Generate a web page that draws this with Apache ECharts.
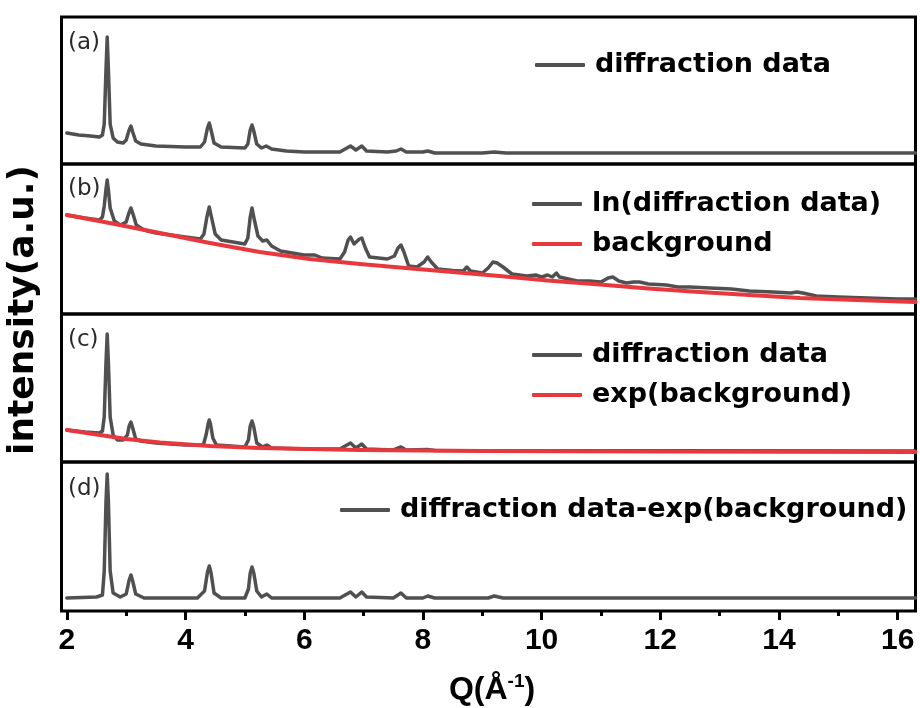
<!DOCTYPE html>
<html>
<head>
<meta charset="utf-8">
<title>diffraction data</title>
<script src="https://cdn.jsdelivr.net/npm/echarts@6/dist/echarts.min.js"></script>
<style>
html,body{margin:0;padding:0;background:#fff;}
#main{width:920px;height:708px;}
</style>
</head>
<body>
<div id="main"></div>
<script>
// Q (1/A) vs intensity (arbitrary units per panel)
var dataA = [[2.0,31],[2.2,29],[2.4,28],[2.55,27],[2.6,29],[2.63,40],[2.66,95],[2.68,127],[2.70,95],[2.73,40],[2.78,26],[2.85,22],[2.95,21],[3.0,24],[3.05,34],[3.08,38],[3.11,32],[3.16,23],[3.25,20],[3.5,18],[4.0,17],[4.25,17],[4.32,22],[4.37,36],[4.4,41],[4.43,34],[4.48,21],[4.6,17],[5.0,16],[5.05,20],[5.09,34],[5.12,39],[5.15,33],[5.2,20],[5.28,16],[5.36,18],[5.45,15],[5.7,13],[6.0,12],[6.6,12],[6.72,16],[6.78,18],[6.87,14],[6.97,18],[7.05,13],[7.4,12],[7.55,13],[7.63,15],[7.72,12],[8.0,12],[8.08,13],[8.2,11],[9.0,11],[9.2,12],[9.4,11],[16.3,11]];

var lnData = [[2.0,99],[2.3,96],[2.55,94],[2.6,97],[2.63,108],[2.66,125],[2.68,134],[2.70,124],[2.73,106],[2.8,93],[2.9,89],[3.0,92],[3.04,100],[3.08,106],[3.12,99],[3.17,89],[3.3,84],[3.5,81],[4.0,77],[4.25,75],[4.31,80],[4.36,97],[4.4,107],[4.44,96],[4.5,80],[4.6,74],[5.0,70],[5.05,76],[5.09,97],[5.12,106],[5.16,94],[5.22,78],[5.3,73],[5.37,74],[5.45,68],[5.6,63],[6.0,59],[6.18,59],[6.3,56],[6.6,55],[6.68,62],[6.74,74],[6.78,77],[6.84,70],[6.87,69],[6.93,75],[6.97,76],[7.03,66],[7.1,57],[7.4,55],[7.52,58],[7.58,66],[7.63,69],[7.68,62],[7.76,48],[7.9,47],[8.02,52],[8.08,57],[8.14,52],[8.25,45],[8.5,43.5],[8.68,43],[8.74,47],[8.8,43],[9.0,41],[9.1,46],[9.18,52],[9.25,51],[9.35,47],[9.5,40],[9.75,38],[9.9,39],[10.0,37],[10.1,39],[10.18,37],[10.25,41],[10.3,37],[10.45,35],[10.6,33],[10.8,33],[11.0,32],[11.12,36],[11.2,37],[11.3,33],[11.43,31],[11.55,32],[11.65,32],[11.8,30],[12.1,29],[12.3,27],[12.5,27],[12.83,26],[13.2,25],[13.5,23],[13.9,22],[14.2,21],[14.3,22],[14.4,21],[14.63,18],[15.0,17],[15.5,16],[16.0,15],[16.3,15]];

var bgLn = [[2.0,99],[2.72,91],[3.57,81],[4.41,71],[5.25,62],[6.09,55],[6.94,50],[7.61,46.5],[8.5,42],[9.29,38],[10.1,33.5],[10.98,29.5],[11.8,25.5],[12.66,22],[13.5,19],[14.35,16],[15.3,14],[16.3,12]];

var dataC = [[2.0,32],[2.3,30],[2.55,29],[2.6,31],[2.63,45],[2.66,100],[2.68,128],[2.70,100],[2.73,45],[2.78,27],[2.85,22],[2.95,22],[3.02,27],[3.05,36],[3.08,40],[3.11,34],[3.16,23],[3.25,21],[3.5,19],[4.0,17],[4.3,17],[4.35,28],[4.38,38],[4.4,42],[4.42,38],[4.46,24],[4.52,17],[5.0,15],[5.06,22],[5.09,36],[5.12,41],[5.15,35],[5.2,19],[5.3,15],[5.37,17],[5.45,14],[6.0,13],[6.6,13],[6.72,17],[6.78,19],[6.87,14],[6.97,18],[7.05,13],[7.5,12],[7.63,15],[7.72,12],[8.08,12.5],[8.2,11.5],[16.3,11]];

var bgExp = [[2.0,32],[2.56,27],[3.0,23],[3.57,19.5],[4.41,16],[5.25,14],[6.94,12],[9.0,11],[12.0,10.5],[16.3,10]];

var dataD = [[2.0,13],[2.5,14],[2.6,16],[2.63,40],[2.66,110],[2.68,137],[2.70,110],[2.73,40],[2.78,18],[2.9,14],[3.0,17],[3.05,31],[3.08,36],[3.11,30],[3.16,17],[3.3,13],[4.2,13],[4.32,20],[4.37,39],[4.4,45],[4.43,38],[4.48,18],[4.6,13],[5.0,13],[5.06,22],[5.09,38],[5.12,44],[5.15,38],[5.2,20],[5.28,14],[5.37,17],[5.45,13],[6.6,13],[6.72,17],[6.78,19],[6.87,14],[6.97,19],[7.05,14],[7.5,13],[7.63,18],[7.72,13],[8.0,13],[8.08,15],[8.2,13],[9.1,13],[9.2,15],[9.35,13],[16.3,13]];

var xTicks = [2, 4, 6, 8, 10, 12, 14, 16];
var xMinor = [3, 5, 7, 9, 11, 13, 15];
var panelTags = ['(a)', '(b)', '(c)', '(d)'];

var grey = '#505050';
var red = '#e8383d';

// grid layout: top and height of each panel
var panels = [
    {top: 17, h: 147},
    {top: 164, h: 150},
    {top: 314, h: 148},
    {top: 462, h: 149}
];
var tagY = [46, 192, 343, 492];

var chart = echarts.init(document.getElementById('main'), null, {renderer: 'canvas'});

var grids = [], xAxes = [], yAxes = [];
panels.forEach(function(p, i){
    grids.push({left: 61.5, right: 4.5, top: p.top, height: p.h, show: true,
        borderColor: '#000', borderWidth: 3, backgroundColor: 'transparent'});
    var last = (i == panels.length - 1);
    xAxes.push({
        type: 'value', gridIndex: i, min: 1.91, max: 16.3,
        axisLine: {show: false},
        splitLine: {show: false},
        axisTick: {show: last, customValues: xTicks, length: 9, lineStyle: {color: '#000', width: 3}},
        axisLabel: {show: last, customValues: xTicks, margin: 15, color: '#000',
            fontFamily: 'Liberation Sans', fontWeight: 'bold', fontSize: 30}
    });
    yAxes.push({type: 'value', gridIndex: i, min: 0, max: p.h, show: false});
});
// minor ticks at odd Q
xAxes.push({
    type: 'value', gridIndex: 3, position: 'bottom', offset: 0, min: 1.91, max: 16.3,
    axisLine: {show: false}, splitLine: {show: false}, axisLabel: {show: false},
    axisTick: {show: true, customValues: xMinor, length: 5, lineStyle: {color: '#000', width: 3}}
});

function line(name, data, idx, color, w){
    return {
        type: 'line', name: name, data: data, xAxisIndex: idx, yAxisIndex: idx,
        showSymbol: false, symbol: 'none',
        lineStyle: {color: color, width: w, join: 'round', cap: 'round'},
        itemStyle: {color: color}
    };
}

var legendText = {fontFamily: 'DejaVu Sans', fontWeight: 'bold', fontSize: 27,
    color: '#000', lineHeight: 30, padding: [0, 0, 0, 5]};
function legend(names, left, top){
    return {data: names, left: left, top: top, orient: 'vertical', itemGap: 10,
        icon: 'roundRect', itemWidth: 50, itemHeight: 4, selectedMode: false,
        textStyle: legendText};
}

var graphics = [];
panelTags.forEach(function(t, i){
    graphics.push({type: 'text', left: 68, top: tagY[i] - 14,
        style: {text: t, fill: '#2a2a2a', font: '23px "DejaVu Sans"'}});
});
graphics.push({type: 'text', x: 24, y: 310, rotation: Math.PI / 2,
    style: {text: 'intensity(a.u.)', fill: '#000', font: 'bold 36px "DejaVu Sans"',
        align: 'center', verticalAlign: 'middle'}});
graphics.push({type: 'text', x: 492, y: 690,
    style: {text: '{n|Q(Å}{s|-1}{n|)}', align: 'center', verticalAlign: 'middle',
        rich: {
            n: {font: 'bold 32px "Liberation Sans"', fill: '#000'},
            s: {font: 'bold 19px "Liberation Sans"', fill: '#000', padding: [0, 0, 16, 0]}
        }}});

chart.setOption({
    animation: false,
    backgroundColor: '#fff',
    grid: grids,
    xAxis: xAxes,
    yAxis: yAxes,
    legend: [
        legend(['diffraction data'], 530, 45),
        legend(['ln(diffraction data)', 'background'], 527, 184),
        legend(['diffraction data', 'exp(background)'], 527, 335),
        legend(['diffraction data-exp(background)'], 335, 490)
    ],
    graphic: graphics,
    series: [
        line('diffraction data', dataA, 0, grey, 3.5),
        line('ln(diffraction data)', lnData, 1, grey, 3.5),
        line('background', bgLn, 1, red, 4),
        line('diffraction data', dataC, 2, grey, 3.5),
        line('exp(background)', bgExp, 2, red, 4),
        line('diffraction data-exp(background)', dataD, 3, grey, 3.5)
    ]
});
</script>
</body>
</html>
